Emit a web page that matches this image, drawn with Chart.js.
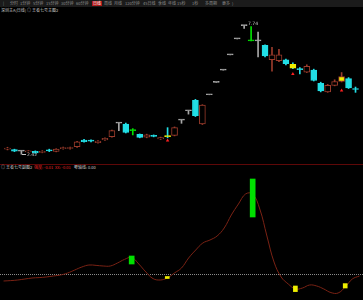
<!DOCTYPE html>
<html>
<head>
<meta charset="utf-8">
<script src="https://cdn.jsdelivr.net/npm/chart.js@4.4.1/dist/chart.umd.min.js"></script>
<style>
body { margin: 0; background: #000; width: 363px; height: 300px; overflow: hidden; position: relative; font-family: "Noto Sans CJK SC", sans-serif; }
.toolbar { position: absolute; left: 0; top: 0; width: 363px; height: 7px; background: #1b1b1b; }
.t { position: absolute; font-size: 4px; line-height: 5px; color: #8e8e8e; white-space: nowrap; }
.on { background: #b01818; color: #fff; padding: 0 1px; }
.red { color: #e02020; }
.sep { position: absolute; left: 0; top: 164px; width: 363px; height: 1px; background: #5e0808; }
canvas { position: absolute; left: 0; }
</style>
</head>
<body>
<div class="toolbar"></div>
<span class="t" style="left:3px;top:1px">|</span>
<span class="t" style="left:10px;top:1px">分时</span>
<span class="t" style="left:20px;top:1px">1分钟</span>
<span class="t" style="left:33px;top:1px">5分钟</span>
<span class="t" style="left:46px;top:1px">15分钟</span>
<span class="t" style="left:61px;top:1px">30分钟</span>
<span class="t" style="left:76px;top:1px">60分钟</span>
<span class="t on" style="left:92px;top:1px">日线</span>
<span class="t" style="left:104px;top:1px">周线</span>
<span class="t" style="left:114px;top:1px">月线</span>
<span class="t" style="left:125px;top:1px">120分钟</span>
<span class="t" style="left:143px;top:1px">45日线</span>
<span class="t" style="left:158px;top:1px">季线</span>
<span class="t" style="left:168px;top:1px">年线</span>
<span class="t" style="left:177px;top:1px">15秒</span>
<span class="t" style="left:192px;top:1px">1秒</span>
<span class="t" style="left:205px;top:1px">多周期</span>
<span class="t" style="left:222px;top:1px">更多</span>
<span class="t" style="left:232px;top:1px">)</span>
<span class="t" style="left:1px;top:8px;color:#c8c8c8">深圳主A(日线) ◎ 王者七号主图2</span>
<div class="sep"></div>
<span class="t" style="left:1px;top:165px;color:#c8c8c8">◎ 王者七号副图2</span>
<span class="t red" style="left:34px;top:165px">强度: -0.01</span>
<span class="t red" style="left:55px;top:165px">XX: -0.01</span>
<span class="t" style="left:74px;top:165px;color:#c8c8c8">零轴线: 0.00</span>
<canvas id="kline" width="363" height="148" style="top:15px"></canvas>
<canvas id="ind" width="363" height="128" style="top:170px"></canvas>
<script>
var days = ["1","2","3","4","5","6","7","8","9","10","11","12","13","14","15","16","17","18","19","20",
  "21","22","23","24","25","26","27","28","29","30","31","32","33","34","35","36","37","38","39","40",
  "41","42","43","44","45","46","47","48","49","50","51"];
var opens  = [2.63,2.61,2.55,2.52,2.54,2.50,2.58,2.54,2.65,2.66,2.73,3.01,2.98,2.90,3.01,3.15,3.71,3.67,3.42,3.24,
  3.13,3.20,3.05,3.17,3.20,3.83,4.22,4.65,3.67,4.88,5.39,5.90,6.53,7.19,7.74,7.13,7.11,6.92,6.33,6.29,
  6.33,6.14,5.96,5.82,5.90,5.35,5.00,5.27,5.43,5.55,5.14];
var closes = [2.66,2.55,2.55,2.55,2.48,2.54,2.56,2.63,2.69,2.67,2.93,2.94,2.96,2.97,3.08,3.40,3.71,3.32,3.40,3.12,
  3.22,3.16,3.11,3.15,3.52,3.83,4.22,4.02,4.45,4.88,5.39,5.90,6.53,7.19,7.74,7.11,7.11,6.49,6.53,6.53,
  6.17,5.98,5.92,6.06,5.47,5.04,5.27,5.43,5.63,5.16,5.10];
var highs  = [2.71,2.63,2.56,2.57,2.56,2.57,2.63,2.65,2.72,2.72,2.95,3.04,3.02,2.99,3.10,3.42,3.71,3.71,3.48,3.26,
  3.25,3.22,3.13,3.52,3.55,3.83,4.22,4.69,4.47,4.88,5.39,5.90,6.53,7.19,7.74,7.70,7.47,6.95,6.84,6.76,
  6.36,6.20,6.00,6.12,5.94,5.40,5.31,5.50,5.80,5.59,5.20];
var lows   = [2.60,2.53,2.42,2.50,2.46,2.48,2.53,2.52,2.63,2.63,2.70,2.92,2.93,2.88,2.99,3.13,3.40,3.30,3.22,3.10,
  3.10,3.14,3.03,3.10,3.18,3.70,4.08,3.98,3.65,4.88,5.39,5.90,6.53,7.19,7.62,7.11,6.45,6.45,5.86,6.25,
  6.12,5.96,5.74,5.80,5.45,5.00,4.98,5.25,5.41,5.14,4.98];
// signal candles: g = green, y = yellow
var signal = ["","","","","","","","","","","","","","","","","","","g","",
  "","","","y","","","","","","","","","","","","g","","","","",
  "","y","","","","","","","y","",""];
// red arrows under the candles
var arrows = [null,null,null,null,null,null,null,null,null,null,null,null,null,null,null,null,null,null,null,null,
  null,null,null,2.99,null,null,null,null,null,null,null,null,null,null,null,null,null,null,null,null,
  null,5.74,null,null,null,null,null,null,5.06,null,null];
// 强度 line
var strength = [-0.035,-0.033,-0.03,-0.025,-0.02,-0.018,-0.015,-0.01,-0.005,0.005,0.02,0.035,0.045,0.043,0.04,0.04,0.055,0.073,0.083,0.05,
  0.01,-0.023,-0.03,-0.02,0.005,0.03,0.08,0.12,0.155,0.17,0.19,0.23,0.295,0.35,0.40,0.40,0.325,0.19,0.06,-0.015,
  -0.05,-0.075,-0.07,-0.055,-0.06,-0.075,-0.093,-0.095,-0.065,-0.025,-0.01];
var greenBars = days.map(function () { return null; });
greenBars[18] = [0.05, 0.09];
greenBars[35] = [0.285, 0.475];
var yellowBars = days.map(function () { return null; });
yellowBars[23] = [-0.0225, -0.0125];
yellowBars[41] = [-0.088, -0.06];
yellowBars[48] = [-0.07, -0.048];

var UP = "#9a3b2b", DOWN = "#22dfe6", FLAT = "#a8a8a8", GREEN = "#00e000", YELLOW = "#eeee00";

function baseColor(i) {
  if (opens[i] === closes[i]) return FLAT;
  return closes[i] > opens[i] ? UP : DOWN;
}
var bodyFill = days.map(function (d, i) {
  if (signal[i] === "g") return GREEN;
  if (signal[i] === "y") return YELLOW;
  return closes[i] > opens[i] ? "#000" : baseColor(i);
});
var bodyEdge = days.map(function (d, i) {
  if (signal[i] === "g") return GREEN;
  if (signal[i] === "y") return closes[i] > opens[i] ? UP : YELLOW;
  return baseColor(i);
});
var wickColor = days.map(function (d, i) {
  return signal[i] === "g" ? GREEN : baseColor(i);
});

// marks the highest high and lowest low like the trading software does
var extremes = {
  id: "extremes",
  afterDatasetsDraw: function (chart) {
    var ctx = chart.ctx, xs = chart.scales.x, ys = chart.scales.y;
    var hi = Math.max.apply(null, highs), lo = Math.min.apply(null, lows);
    var hiI = highs.indexOf(hi), loI = lows.indexOf(lo);
    ctx.save();
    ctx.font = '4.5px "DejaVu Sans"';
    ctx.fillStyle = "#c8c8c8";
    ctx.strokeStyle = "#c8c8c8";
    ctx.lineWidth = 1;
    ctx.textBaseline = "middle";
    var px = Math.round(xs.getPixelForValue(loI)), py = Math.round(ys.getPixelForValue(lo));
    ctx.beginPath();
    ctx.moveTo(px + 1, py + 0.5);
    ctx.lineTo(px + 5, py + 0.5);
    ctx.stroke();
    ctx.fillText(lo.toFixed(2), px + 6, py + 0.5);
    px = Math.round(xs.getPixelForValue(hiI));
    py = Math.round(ys.getPixelForValue(hi));
    ctx.fillText(hi.toFixed(2), px + 4, py - 2);
    ctx.restore();
  }
};

new Chart("kline", {
  type: "bar",
  data: {
    labels: days,
    datasets: [{
      data: lows.map(function (l, i) { return [l, highs[i]]; }),
      backgroundColor: wickColor,
      barThickness: 1,
      grouped: false,
      order: 3
    }, {
      data: opens.map(function (o, i) { return [o, closes[i]]; }),
      backgroundColor: bodyFill,
      borderColor: bodyEdge,
      borderWidth: 1,
      borderSkipped: false,
      barThickness: 6,
      minBarLength: 1,
      grouped: false,
      order: 2
    }, {
      type: "line",
      data: arrows,
      showLine: false,
      pointStyle: "triangle",
      pointRadius: 2,
      backgroundColor: "#ff2020",
      borderColor: "#ff2020",
      borderWidth: 0,
      order: 1
    }]
  },
  options: {
    responsive: false,
    animation: false,
    devicePixelRatio: 1,
    layout: { padding: 0 },
    plugins: { legend: { display: false }, tooltip: { enabled: false } },
    scales: {
      x: { display: false, offset: true },
      y: { display: false, min: 2.224, max: 8.014 }
    }
  },
  plugins: [extremes]
});

new Chart("ind", {
  type: "bar",
  data: {
    labels: days,
    datasets: [{
      data: greenBars,
      backgroundColor: GREEN,
      barThickness: 5,
      grouped: false,
      order: 1
    }, {
      data: yellowBars,
      backgroundColor: YELLOW,
      barThickness: 4,
      grouped: false,
      order: 1
    }, {
      type: "line",
      data: strength,
      borderColor: "#7a2214",
      borderWidth: 1,
      pointRadius: 0,
      tension: 0.4,
      order: 2
    }]
  },
  options: {
    responsive: false,
    animation: false,
    devicePixelRatio: 1,
    layout: { padding: 0 },
    plugins: { legend: { display: false }, tooltip: { enabled: false } },
    scales: {
      x: { display: false, offset: true },
      y: {
        min: -0.12, max: 0.52,
        afterBuildTicks: function (s) { s.ticks = [{ value: 0 }]; }, // only the zero axis line
        afterFit: function (s) { s.width = 0; },
        ticks: { display: false },
        grid: { color: "#8a8a8a", drawTicks: false, lineWidth: 1 },
        border: { display: false, dash: [1, 1] }
      }
    }
  }
});
</script>
</body>
</html>
